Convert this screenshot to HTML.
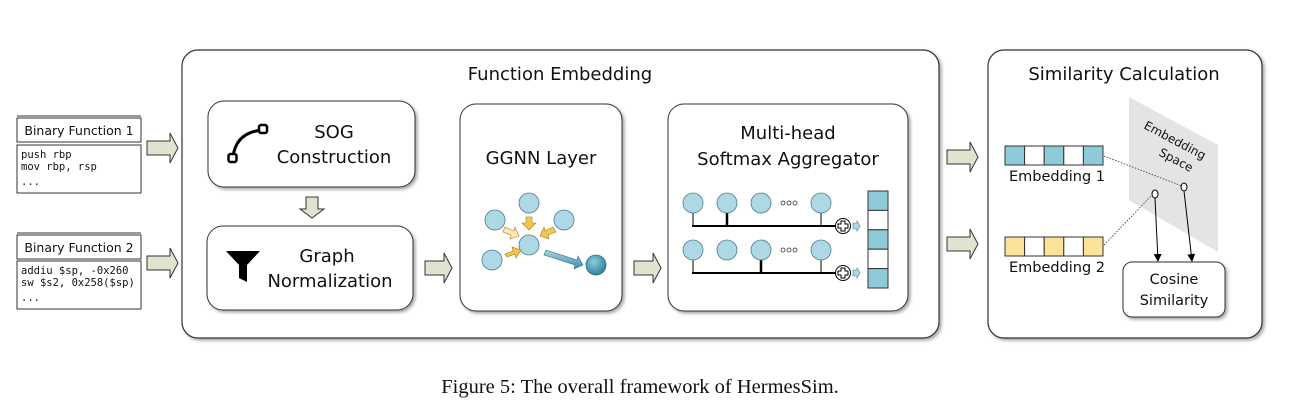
<!DOCTYPE html>
<html><head><meta charset="utf-8"><style>
html,body{margin:0;padding:0;background:#fff;}
svg{display:block;}
text{font-family:"DejaVu Sans","Liberation Sans",sans-serif;fill:#111;}
.mono{font-family:"DejaVu Sans Mono","Liberation Mono",monospace;font-size:10.5px;}
</style></head><body>
<svg width="1291" height="411" viewBox="0 0 1291 411" xmlns="http://www.w3.org/2000/svg">
<defs>
<filter id="sh" x="-5%" y="-5%" width="115%" height="115%"><feDropShadow dx="2" dy="2" stdDeviation="1.5" flood-color="#000" flood-opacity="0.35"/></filter>
<marker id="ah" markerWidth="8" markerHeight="8" refX="7" refY="4" orient="auto" markerUnits="userSpaceOnUse"><path d="M0,0 L8,4 L0,8 z" fill="#000"/></marker>
<linearGradient id="bl" x1="0" y1="0" x2="0" y2="1"><stop offset="0" stop-color="#a9d6e2"/><stop offset="1" stop-color="#3f8aa6"/></linearGradient>
<radialGradient id="dk" cx="0.4" cy="0.35" r="0.7"><stop offset="0" stop-color="#8ccbdc"/><stop offset="1" stop-color="#2b7d9c"/></radialGradient>
</defs>

<rect x="182" y="50" width="757" height="288" rx="16" fill="#fff" stroke="#333" stroke-width="1.2" filter="url(#sh)"/>
<text x="560" y="80" font-size="18" text-anchor="middle">Function Embedding</text>
<rect x="988" y="50" width="274" height="288" rx="16" fill="#fff" stroke="#333" stroke-width="1.2" filter="url(#sh)"/>
<text x="1124" y="80" font-size="18" text-anchor="middle">Similarity Calculation</text>

<line x1="17" y1="116" x2="141" y2="116" stroke="#333"/>
<rect x="17" y="118" width="124" height="24" fill="#fff" stroke="#333"/>
<text x="79" y="135" font-size="12.5" text-anchor="middle">Binary Function 1</text>
<rect x="17" y="145" width="124" height="48" fill="#fff" stroke="#333"/>
<text x="21" y="158" class="mono">push rbp</text>
<text x="21" y="170" class="mono">mov rbp, rsp</text>
<text x="21" y="185" class="mono">...</text>
<line x1="17" y1="233" x2="141" y2="233" stroke="#333"/>
<rect x="17" y="235" width="124" height="24" fill="#fff" stroke="#333"/>
<text x="79" y="252" font-size="12.5" text-anchor="middle">Binary Function 2</text>
<rect x="17" y="261" width="124" height="48" fill="#fff" stroke="#333"/>
<text x="21" y="274" class="mono">addiu $sp, -0x260</text>
<text x="21" y="286" class="mono">sw $s2, 0x258($sp)</text>
<text x="21" y="301" class="mono">...</text>

<g fill="#dfe3cf" stroke="#333" stroke-width="1">
<path d="M147,141 h23 v-8 l8,15 l-8,15 v-8 h-23 z"/>
<path d="M147,256 h23 v-8 l8,15 l-8,15 v-8 h-23 z"/>
<path d="M425,261 h19 v-8 l8,15 l-8,15 v-8 h-19 z"/>
<path d="M634,261 h19 v-8 l8,15 l-8,15 v-8 h-19 z"/>
<path d="M947,150 h23 v-8 l8,15 l-8,15 v-8 h-23 z"/>
<path d="M947,237 h23 v-8 l8,15 l-8,15 v-8 h-23 z"/>
<path d="M306,197 h12 v12 h6 l-12,9 l-12,-9 h6 z"/>
</g>

<rect x="208" y="101" width="207" height="86" rx="16" fill="#fff" stroke="#333" filter="url(#sh)"/>
<path d="M233,157 Q236,132 263,130" fill="none" stroke="#000" stroke-width="3"/>
<rect x="228.5" y="154" width="8" height="8" rx="2" fill="#fff" stroke="#000" stroke-width="2.5"/>
<rect x="259" y="125" width="8" height="8" rx="2" fill="#fff" stroke="#000" stroke-width="2.5"/>
<text x="334" y="138" font-size="18" text-anchor="middle">SOG</text>
<text x="334" y="163" font-size="18" text-anchor="middle">Construction</text>
<rect x="207" y="226" width="206" height="84" rx="16" fill="#fff" stroke="#333" filter="url(#sh)"/>
<path d="M226,251 h34 l-13,14 v17 l-8,-4 v-13 z" fill="#000"/>
<text x="327" y="262" font-size="18" text-anchor="middle">Graph</text>
<text x="330" y="287" font-size="18" text-anchor="middle">Normalization</text>

<rect x="460" y="104" width="162" height="207" rx="16" fill="#fff" stroke="#333" filter="url(#sh)"/>
<text x="541" y="164" font-size="18" text-anchor="middle">GGNN Layer</text>
<g fill="#aed8e3" stroke="#4a7f90" stroke-width="0.8">
<circle cx="529" cy="203" r="10"/><circle cx="495" cy="220" r="10"/><circle cx="564" cy="220" r="10"/>
<circle cx="529" cy="245" r="10"/><circle cx="492" cy="260" r="10"/>
</g>
<circle cx="596" cy="265" r="10" fill="url(#dk)" stroke="#2f6f85" stroke-width="0.8"/>
<g stroke="#a07d1d" stroke-width="0.6">
<path d="M526,217 h6 v6 h4 l-7,7 l-7,-7 h4 z" fill="#f4c64a"/>
<path d="M505,227 l9,4 l1,-4 l4,9 l-9,3 l1,-4 l-8,-3 z" fill="#fde9b8"/>
<path d="M553,227 l-8,4 l-1,-4 l-4,9 l9,3 l-1,-4 l8,-3 z" fill="#f4c64a"/>
<path d="M505,254 l8,-3 l-1,-4 l9,3 l-5,8 l-1,-4 l-8,3 z" fill="#f4c64a"/>
</g>
<path d="M546,250 l31,10 l1,-4 l5,9 l-9,4 l1,-4 l-31,-10 z" fill="url(#bl)" stroke="#2f6f85" stroke-width="0.6"/>

<rect x="668" y="104" width="240" height="207" rx="16" fill="#fff" stroke="#333" filter="url(#sh)"/>
<text x="788" y="139" font-size="18" text-anchor="middle">Multi-head</text>
<text x="788" y="165" font-size="18" text-anchor="middle">Softmax Aggregator</text>
<g stroke="#000" stroke-width="2">
<line x1="692" y1="226" x2="836" y2="226"/><line x1="692" y1="273" x2="836" y2="273"/>
<line x1="693" y1="213" x2="693" y2="226" stroke-width="1"/><line x1="727" y1="213" x2="727" y2="226" stroke-width="2.5"/><line x1="821" y1="213" x2="821" y2="226" stroke-width="1"/>
<line x1="693" y1="260" x2="693" y2="273" stroke-width="1"/><line x1="761" y1="260" x2="761" y2="273" stroke-width="2.5"/><line x1="821" y1="260" x2="821" y2="273" stroke-width="1"/>
</g>
<g fill="#aed8e3" stroke="#4a7f90" stroke-width="0.8">
<circle cx="693" cy="203" r="10"/><circle cx="727" cy="203" r="10"/><circle cx="761" cy="203" r="10"/><circle cx="821" cy="203" r="10"/>
<circle cx="693" cy="250" r="10"/><circle cx="727" cy="250" r="10"/><circle cx="761" cy="250" r="10"/><circle cx="821" cy="250" r="10"/>
</g>
<g fill="none" stroke="#333" stroke-width="0.8">
<circle cx="783" cy="203" r="2"/><circle cx="789" cy="203" r="2"/><circle cx="795" cy="203" r="2"/>
<circle cx="783" cy="250" r="2"/><circle cx="789" cy="250" r="2"/><circle cx="795" cy="250" r="2"/>
</g>
<g fill="#fff" stroke="#000" stroke-width="1">
<circle cx="843" cy="226" r="7.5"/><circle cx="843" cy="273" r="7.5"/>
<path d="M841,221 h4 v3 h3 v4 h-3 v3 h-4 v-3 h-3 v-4 h3 z"/>
<path d="M841,268 h4 v3 h3 v4 h-3 v3 h-4 v-3 h-3 v-4 h3 z"/>
</g>
<g fill="#aed8e3" stroke="#4a7f90" stroke-width="0.6">
<path d="M853,223 h4 v-2 l3,5 l-3,5 v-2 h-4 z"/><path d="M853,270 h4 v-2 l3,5 l-3,5 v-2 h-4 z"/>
</g>
<g stroke="#333" stroke-width="1">
<rect x="868" y="191" width="20" height="19.4" fill="#8ecbd8"/>
<rect x="868" y="210.4" width="20" height="19.4" fill="#fff"/>
<rect x="868" y="229.8" width="20" height="19.4" fill="#8ecbd8"/>
<rect x="868" y="249.2" width="20" height="19.4" fill="#fff"/>
<rect x="868" y="268.6" width="20" height="19.4" fill="#8ecbd8"/>
</g>

<polygon points="1129,97 1218,145 1218,252 1129,200" fill="#e4e4e4"/>
<text x="0" y="0" font-size="12" fill="#333" transform="translate(1143,128) rotate(28)">Embedding</text>
<text x="0" y="0" font-size="12" fill="#333" transform="translate(1158,155) rotate(28)">Space</text>
<g stroke="#333" stroke-width="1">
<rect x="1005" y="146" width="19.6" height="19" fill="#8ecbd8"/><rect x="1024.6" y="146" width="19.6" height="19" fill="#fff"/>
<rect x="1044.2" y="146" width="19.6" height="19" fill="#8ecbd8"/><rect x="1063.8" y="146" width="19.6" height="19" fill="#fff"/>
<rect x="1083.4" y="146" width="19.6" height="19" fill="#8ecbd8"/>
<rect x="1005" y="237" width="19.6" height="19" fill="#fde39a"/><rect x="1024.6" y="237" width="19.6" height="19" fill="#fff"/>
<rect x="1044.2" y="237" width="19.6" height="19" fill="#fde39a"/><rect x="1063.8" y="237" width="19.6" height="19" fill="#fff"/>
<rect x="1083.4" y="237" width="19.6" height="19" fill="#fde39a"/>
</g>
<text x="1057" y="181" font-size="14.5" text-anchor="middle">Embedding 1</text>
<text x="1057" y="272" font-size="14.5" text-anchor="middle">Embedding 2</text>
<line x1="1104" y1="156" x2="1182" y2="186" stroke="#555" stroke-dasharray="1.5,1.5"/>
<line x1="1104" y1="245" x2="1152" y2="195" stroke="#555" stroke-dasharray="1.5,1.5"/>
<line x1="1155" y1="198" x2="1158" y2="261" stroke="#000" marker-end="url(#ah)"/>
<line x1="1184" y1="191" x2="1192" y2="261" stroke="#000" marker-end="url(#ah)"/>
<ellipse cx="1155" cy="194" rx="3" ry="4" fill="#fff" stroke="#000"/>
<ellipse cx="1184" cy="187" rx="3" ry="4" fill="#fff" stroke="#000"/>
<rect x="1123" y="262" width="102" height="55" rx="9" fill="#fff" stroke="#333" filter="url(#sh)"/>
<text x="1174" y="284" font-size="14.5" text-anchor="middle">Cosine</text>
<text x="1174" y="305" font-size="14.5" text-anchor="middle">Similarity</text>

<text x="640" y="393" font-size="20.5" text-anchor="middle" style="font-family:'Liberation Serif',serif">Figure 5: The overall framework of HermesSim.</text>
</svg>
</body></html>
